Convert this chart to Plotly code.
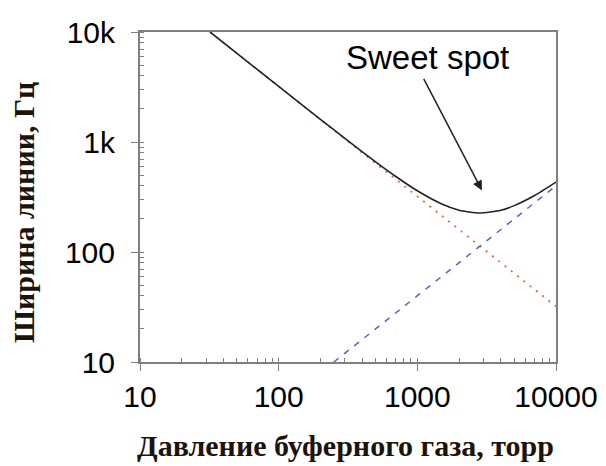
import plotly.graph_objects as go

# Data (log-log)
pressure_total = [32, 50, 100, 200, 300, 500, 700, 1000, 1500, 2000, 2800, 4000, 5000, 7000, 10000]
width_total = [10000, 6400, 3204, 1608, 1079, 661, 486, 360, 273, 240, 226, 240, 264, 326, 432]

pressure_diffusion = [32, 10000]
width_diffusion = [10000, 32]

pressure_collision = [250, 10000]
width_collision = [10, 400]

x_ticks = [10, 100, 1000, 10000]
x_ticktext = ["10", "100", "1000", "10000"]
y_ticks = [10, 100, 1000, 10000]
y_ticktext = ["10", "100", "1k", "10k"]

fig = go.Figure()
fig.add_trace(go.Scatter(x=pressure_diffusion, y=width_diffusion, mode="lines",
                         line=dict(color="#e8603c", width=1.7, dash="2px,6px"),
                         showlegend=False))
fig.add_trace(go.Scatter(x=pressure_collision, y=width_collision, mode="lines",
                         line=dict(color="#5565c8", width=1.5, dash="6px,7px"),
                         showlegend=False))
fig.add_trace(go.Scatter(x=pressure_total, y=width_total, mode="lines",
                         line=dict(color="#222222", width=1.6, shape="spline", smoothing=0.6),
                         showlegend=False))

axis_common = dict(
    type="log", range=[1, 4], showgrid=False, zeroline=False, automargin=False,
    showline=True, linecolor="#808080", linewidth=2, mirror=True,
    ticks="outside", ticklen=7, tickcolor="#808080", tickwidth=1,
    minor=dict(ticks="inside", ticklen=4, tickcolor="#808080", tickwidth=1, dtick="D1"),
    tickfont=dict(family="Liberation Sans, Arial, sans-serif", size=30, color="#000000"),
)

fig.update_xaxes(**axis_common, tickvals=x_ticks, ticktext=x_ticktext, ticklabelstandoff=0)
fig.update_yaxes(**axis_common, tickvals=y_ticks, ticktext=y_ticktext, ticklabelstandoff=10)

title_font = dict(family="Liberation Serif, Times New Roman, serif", size=30, color="#1c130a", weight="bold")
fig.add_annotation(text="Давление буферного газа, торр", xref="paper", yref="paper",
                   x=(345 - 140) / 416, y=(362 - 446) / 330, xanchor="center", yanchor="middle",
                   showarrow=False, font=title_font)
fig.add_annotation(text="Ширина линии, Гц", xref="paper", yref="paper",
                   x=(23 - 140) / 416, y=(362 - 213) / 330, xanchor="center", yanchor="middle",
                   textangle=-90, showarrow=False, font=title_font)

fig.add_annotation(text="Sweet spot", xref="paper", yref="paper",
                   x=(427 - 140) / 416, y=(362 - 57) / 330, xanchor="center", yanchor="middle",
                   showarrow=False,
                   font=dict(family="Liberation Sans, Arial, sans-serif", size=33, color="#000000"))
fig.add_annotation(x=3.466, y=2.56, xref="x", yref="y", text="",
                   showarrow=True, axref="pixel", ayref="pixel", ax=-59, ay=-113,
                   arrowhead=2, arrowsize=1.3, arrowwidth=1.5, arrowcolor="#222222")

fig.update_layout(
    width=606, height=466,
    margin=dict(l=140, r=50, t=32, b=104),
    paper_bgcolor="white", plot_bgcolor="white",
    showlegend=False,
)

fig.write_html("out.html")
